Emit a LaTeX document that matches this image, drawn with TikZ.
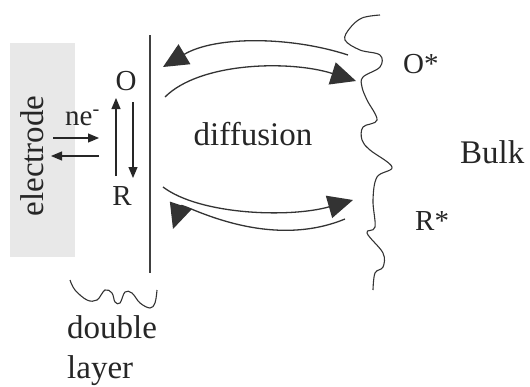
\documentclass[tikz,border=0pt]{standalone}
\usepackage{fontspec}
\setmainfont{Liberation Serif}
\usetikzlibrary{arrows.meta}
\begin{document}
\begin{tikzpicture}[x=1pt,y=-1pt,
  lbl/.style={inner sep=0pt, font=\fontsize{33}{38}\selectfont, text=black!85},
  smalllbl/.style={inner sep=0pt, font=\fontsize{29}{34}\selectfont, text=black!85},
  bigarrow/.style={line width=1.3pt, draw=black!80, -{Triangle[length=25pt,width=23pt]}},
  thinarrow/.style={line width=1.2pt, draw=black!85, -{Triangle[length=11pt,width=9pt]}},
  plainline/.style={line width=1.1pt, draw=black!75},
  wavy/.style={line width=1.1pt, draw=black!80}]
\useasboundingbox (0,0) rectangle (530,386);

% electrode
\node[fill=black!9, minimum width=65pt, minimum height=214pt, anchor=north west, inner sep=0pt] (electrode) at (10,43) {};
\node[lbl, rotate=90, anchor=base] (etext) at (43,156) {electrode};

% double layer plane
\coordinate (vt) at (150,35);
\coordinate (vb) at (150,273);
\draw[plainline] (vt) -- (vb);

% labels
\node[smalllbl, anchor=base] (O) at (126,90) {O};
\node[smalllbl, anchor=base] (R) at (122,205) {R};
\node[smalllbl, anchor=base west] (ne) at (65,125) {ne\textsuperscript{-}};
\node[lbl, anchor=base] (diff) at (253,145) {diffusion};
\node[smalllbl, anchor=base west] (Os) at (403,73) {O*};
\node[lbl, anchor=base west] (bulk) at (460,163) {Bulk};
\node[smalllbl, anchor=base west] (Rs) at (415,230) {R*};
\node[lbl, anchor=base west] (double) at (67,338) {double};
\node[lbl, anchor=base west] (layer) at (67,378) {layer};

% electron transfer arrows
\coordinate (e1s) at (53,138);
\coordinate (e1e) at (99,138);
\coordinate (e2s) at (99,156);
\coordinate (e2e) at (51,156);
\draw[thinarrow] (e1s) -- (e1e);
\draw[thinarrow] (e2s) -- (e2e);

% O <-> R arrows
\coordinate (upS) at (116,176);
\coordinate (upE) at (116,98);
\coordinate (dnS) at (133,102);
\coordinate (dnE) at (133,178);
\draw[thinarrow] (upS) -- (upE);
\draw[thinarrow] (dnS) -- (dnE);

% diffusion arrows
\coordinate (a1s) at (348,55);
\coordinate (a1e) at (163,67);
\coordinate (a2s) at (165,97);
\coordinate (a2e) at (356,81);
\coordinate (a3s) at (163,187);
\coordinate (a3e) at (353,200);
\coordinate (a4s) at (345,219);
\coordinate (a4e) at (173,229);
\draw[bigarrow] (a1s) .. controls (290,36) and (215,36) .. (a1e);
\draw[bigarrow] (a2s) .. controls (200,62) and (290,60) .. (a2e);
\draw[bigarrow] (a3s) .. controls (200,215) and (290,218) .. (a3e);
\draw[bigarrow] (a4s) .. controls (265,252) and (182,202) .. (a4e);

% bulk boundary
\draw[wavy] plot[smooth, tension=0.6] coordinates {(380,15) (362,18) (350,28) (345,40) (360,50) (380,55) (380,67) (363,77) (362,87) (367,100) (377,120) (363,127) (362,140) (370,150) (392,167) (377,177) (373,200) (375,227) (367,233) (383,253) (383,267) (375,273) (373,290)};

% double layer brace
\draw[wavy] plot[smooth, tension=0.6] coordinates {(70,280) (75,290) (87,300) (97,300) (105,290) (112,293) (115,302) (120,303) (125,292) (132,293) (140,303) (150,308) (155,303) (157,290)};
\end{tikzpicture}
\end{document}
